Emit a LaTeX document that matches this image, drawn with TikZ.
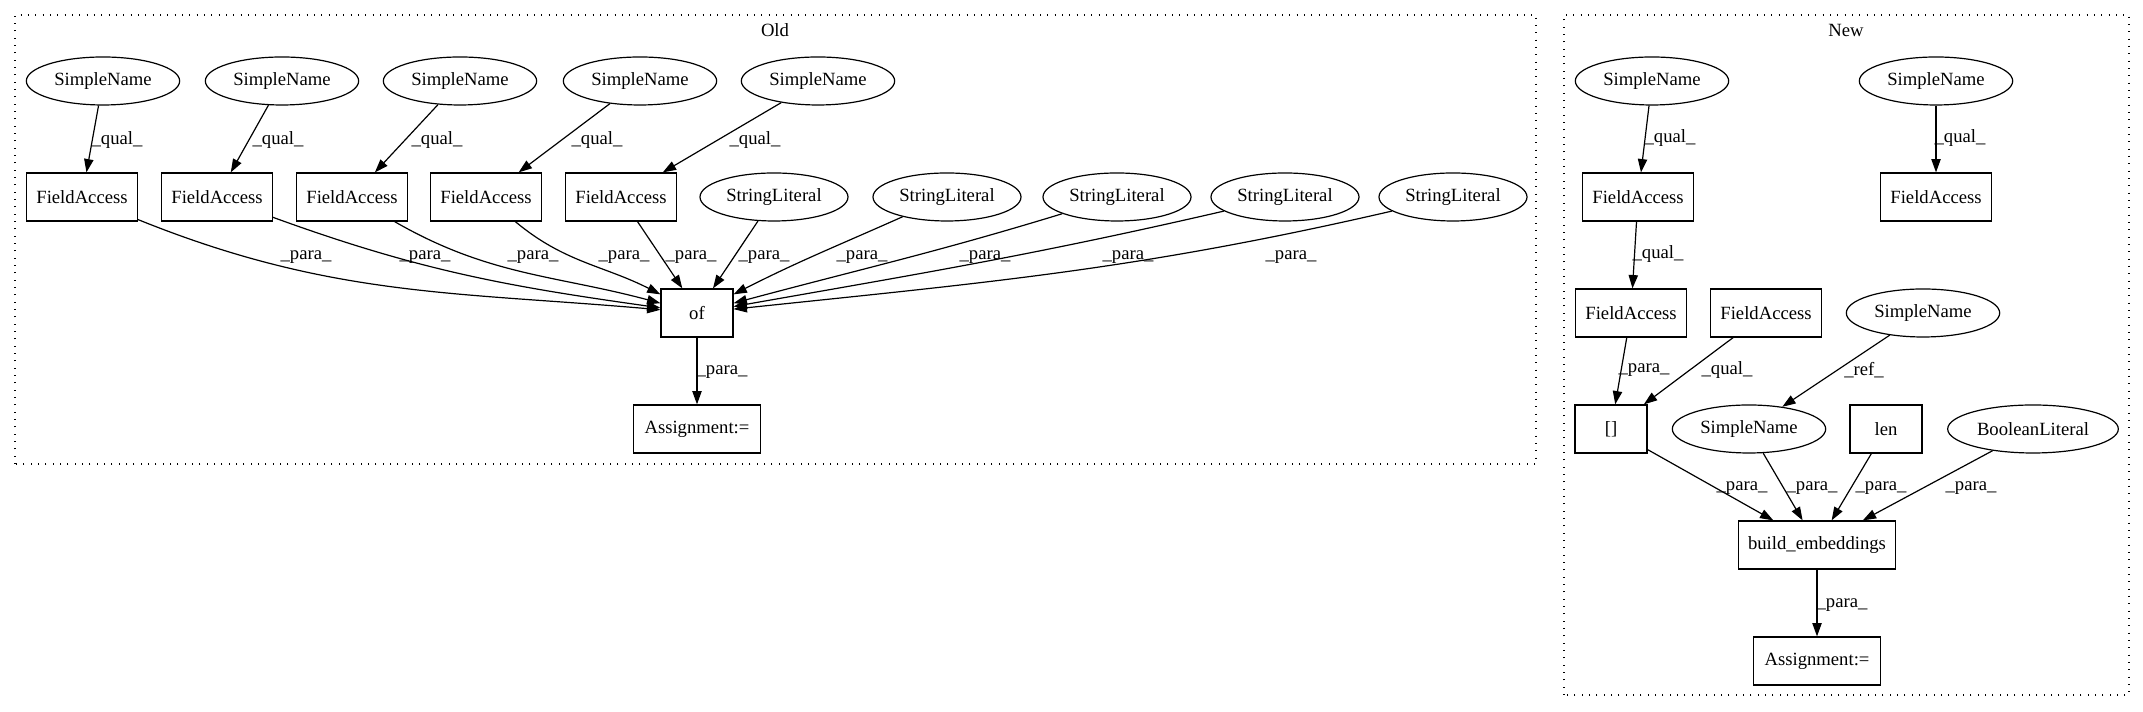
\documentclass[tikz,border=0pt]{standalone}
\usepackage{fontspec}
\setmainfont{Liberation Serif}
\usetikzlibrary{arrows.meta,shapes.geometric}

\begin{document}
\begin{tikzpicture}[x=0.75pt, y=0.75pt, line width=0.9pt,
    font=\fontsize{14pt}{16pt}\selectfont,
    >={Triangle[length=10pt,width=7pt]},
    cluster/.style={draw, line width=0.8pt, dash pattern=on 0.8pt off 4.7pt},
    lbl/.style={inner sep=0pt}]

        \useasboundingbox (0,0) rectangle (2143,712);

        \draw[cluster] (15,248) rectangle (1536,697);
        \draw[cluster] (1564,17) rectangle (2129,697);
        \node (old) at (775,682) {Old};
        \node (new) at (1846,682) {New};

        \begin{scope}[every node/.style={ellipse, draw, inner sep=0pt, minimum width=115pt, minimum height=36pt}]
          \node (sn1) at (103,631) {SimpleName};
          \node (sn2) at (282,631) {SimpleName};
          \node (sn3) at (460,631) {SimpleName};
          \node (sn4) at (640,631) {SimpleName};
          \node (sn5) at (818,631) {SimpleName};
          \node[minimum width=111pt] (sl1) at (774,515) {StringLiteral};
          \node[minimum width=111pt] (sl2) at (947,515) {StringLiteral};
          \node[minimum width=111pt] (sl3) at (1117,515) {StringLiteral};
          \node[minimum width=111pt] (sl4) at (1285,515) {StringLiteral};
          \node[minimum width=111pt] (sl5) at (1453,515) {StringLiteral};

          \node (snA) at (1652,631) {SimpleName};
          \node (snB) at (1936,631) {SimpleName};
          \node (snC) at (1923,399) {SimpleName};
          \node (snD) at (1749,283) {SimpleName};
          \node[minimum width=128pt] (bool) at (2033,283) {BooleanLiteral};
        \end{scope}

        \begin{scope}[every node/.style={rectangle, draw, minimum width=83pt, minimum height=36pt}]
          \node (fa1) at (82,515) {FieldAccess};
          \node (fa2) at (217,515) {FieldAccess};
          \node (fa3) at (352,515) {FieldAccess};
          \node (fa4) at (486,515) {FieldAccess};
          \node (fa5) at (621,515) {FieldAccess};
          \node[minimum width=54pt] (of) at (697,399) {of};
          \node[minimum width=95pt] (asg) at (697,283) {Assignment:=};

          \node (faA) at (1638,515) {FieldAccess};
          \node (faB) at (1936,515) {FieldAccess};
          \node (faC) at (1631,399) {FieldAccess};
          \node (faD) at (1766,399) {FieldAccess};
          \node[minimum width=54pt] (br) at (1611,283) {[]};
          \node[minimum width=54pt] (len) at (1886,283) {len};
          \node[minimum width=118pt] (be) at (1817,167) {build\_embeddings};
          \node[minimum width=95pt] (asgN) at (1817,51) {Assignment:=};
        \end{scope}

        \begin{scope}[every edge/.style={draw, ->}]
          \path (sn1) edge (fa1);
          \path (sn2) edge (fa2);
          \path (sn3) edge (fa3);
          \path (sn4) edge (fa4);
          \path (sn5) edge (fa5);
          \path (fa1) edge[out=-22, in=175] (of);
          \path (fa2) edge[out=-20, in=172] (of);
          \path (fa3) edge[out=-30, in=165] (of);
          \path (fa4) edge[out=-40, in=153] (of);
          \path (fa5) edge ([xshift=-11pt]of.north);
          \path (sl1) edge ([xshift=12pt]of.north);
          \path (sl2) edge[out=204, in=27] (of);
          \path (sl3) edge[out=197, in=15] (of);
          \path (sl4) edge[out=193, in=10] (of);
          \path (sl5) edge[out=193, in=6] (of);
          \path (of) edge (asg);

          \path (snA) edge (faA);
          \path (snB) edge (faB);
          \path (faA) edge (faC);
          \path (faC) edge (br);
          \path (faD) edge (br);
          \path (snC) edge (snD);
          \path (br) edge (be);
          \path (snD) edge (be);
          \path (len) edge (be);
          \path (bool) edge (be);
          \path (be) edge (asgN);
        \end{scope}

        \begin{scope}[every node/.style={lbl}]
          \node (q1) at (117,572) {\_qual\_};
          \node (q2) at (278,572) {\_qual\_};
          \node (q3) at (437,572) {\_qual\_};
          \node (q4) at (597,572) {\_qual\_};
          \node (q5) at (755,572) {\_qual\_};
          \node (p1) at (306,455) {\_para\_};
          \node (p2) at (425,455) {\_para\_};
          \node (p3) at (533,455) {\_para\_};
          \node (p4) at (624,455) {\_para\_};
          \node (p5) at (691,455) {\_para\_};
          \node (p6) at (764,455) {\_para\_};
          \node (p7) at (862,455) {\_para\_};
          \node (p8) at (985,455) {\_para\_};
          \node (p9) at (1128,455) {\_para\_};
          \node (p10) at (1291,455) {\_para\_};
          \node (p11) at (722,340) {\_para\_};

          \node (qA) at (1670,574) {\_qual\_};
          \node (qB) at (1960,574) {\_qual\_};
          \node (qC) at (1658,458) {\_qual\_};
          \node (pC) at (1644,342) {\_para\_};
          \node (qD) at (1727,342) {\_qual\_};
          \node (rC) at (1864,342) {\_ref\_};
          \node (pE) at (1742,224) {\_para\_};
          \node (pF) at (1812,224) {\_para\_};
          \node (pG) at (1881,224) {\_para\_};
          \node (pH) at (1971,224) {\_para\_};
          \node (pI) at (1842,107) {\_para\_};
        \end{scope}

      \end{tikzpicture}
\end{document}
